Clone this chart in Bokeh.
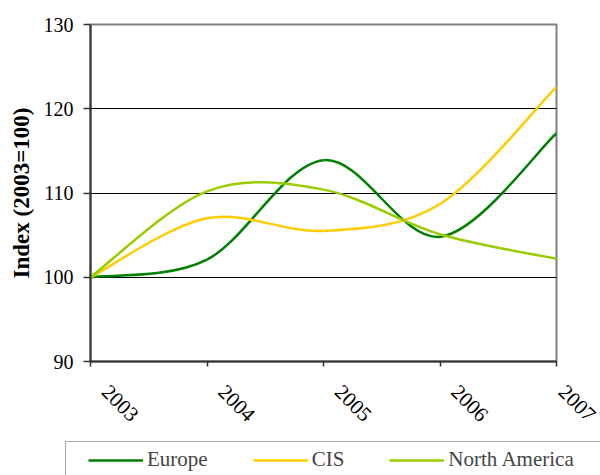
import math
from bokeh.plotting import figure
from bokeh.layouts import column
from bokeh.models import FixedTicker, Legend, LegendItem, Range1d
from bokeh.embed import file_html
from bokeh.resources import INLINE

years = [2003, 2004, 2005, 2006, 2007]
year_labels = ["2003", "2004", "2005", "2006", "2007"]
europe = [100.0, 102.1, 113.9, 104.8, 117.1]
cis = [100.0, 107.0, 105.5, 108.7, 122.6]
north_america = [100.0, 110.2, 110.4, 105.1, 102.2]
y_ticks = [90, 100, 110, 120, 130]
series_names = ["Europe", "CIS", "North America"]
series_colors = ["#008000", "#FFCC00", "#99CC00"]

FONT = "Liberation Serif"

p = figure(width=600, height=441, output_backend="svg", toolbar_location=None,
           x_range=Range1d(2003, 2007), y_range=Range1d(90, 130),
           min_border_left=90, min_border_right=44, min_border_top=24, min_border_bottom=80)
p.background_fill_color = "white"
p.border_fill_color = "white"
p.outline_line_color = "#808080"
p.outline_line_width = 2
p.frame_align = False


def bezier_segments(xs, ys):
    n = len(xs)
    segs = {k: [] for k in ["x0", "y0", "x1", "y1", "cx0", "cy0", "cx1", "cy1"]}
    for i in range(n - 1):
        xm, ym = (xs[i - 1], ys[i - 1]) if i > 0 else (xs[i], ys[i])
        xp, yp = (xs[i + 2], ys[i + 2]) if i + 2 < n else (xs[i + 1], ys[i + 1])
        segs["x0"].append(xs[i]); segs["y0"].append(ys[i])
        segs["x1"].append(xs[i + 1]); segs["y1"].append(ys[i + 1])
        segs["cx0"].append(xs[i] + (xs[i + 1] - xm) / 6)
        segs["cy0"].append(ys[i] + (ys[i + 1] - ym) / 6)
        segs["cx1"].append(xs[i + 1] - (xp - xs[i]) / 6)
        segs["cy1"].append(ys[i + 1] - (yp - ys[i]) / 6)
    return segs


for vals, color in zip([europe, cis, north_america], series_colors):
    p.bezier(line_color=color, line_width=2.5, **bezier_segments(years, vals))

p.xgrid.visible = False
p.ygrid.ticker = FixedTicker(ticks=[100, 110, 120])
p.ygrid.grid_line_color = "black"
p.ygrid.grid_line_width = 1

p.yaxis.ticker = FixedTicker(ticks=y_ticks)
p.xaxis.ticker = FixedTicker(ticks=years)
p.xaxis.major_label_overrides = {y: "\u00a0\u00a0\u00a0\u00a0" + l for y, l in zip(years, year_labels)}
p.xaxis.major_label_orientation = -math.pi / 4

for ax in (p.xaxis, p.yaxis):
    ax.axis_line_color = "#333333"
    ax.axis_line_width = 2
    ax.major_tick_line_color = "#333333"
    ax.major_tick_line_width = 1.5
    ax.minor_tick_line_color = None
    ax.major_tick_in = 0
    ax.major_label_text_font = FONT
    ax.major_label_text_color = "black"

p.yaxis.major_label_text_font_size = "20px"
p.xaxis.major_label_text_font_size = "21px"
p.yaxis.major_tick_out = 7
p.xaxis.major_tick_out = 5
p.yaxis.major_label_standoff = 10
p.xaxis.major_label_standoff = 7

p.yaxis.axis_label = "Index (2003=100)"
p.yaxis.axis_label_text_font = FONT
p.yaxis.axis_label_text_font_style = "bold"
p.yaxis.axis_label_text_font_size = "23px"
p.yaxis.axis_label_text_color = "black"
p.yaxis.axis_label_standoff = 7

# legend strip
q = figure(width=600, height=34, output_backend="svg", toolbar_location=None,
           x_range=Range1d(0, 1), y_range=Range1d(0, 1), x_axis_type=None, y_axis_type=None,
           min_border=0, min_border_left=0, min_border_right=0, min_border_top=0, min_border_bottom=0)
q.outline_line_color = None
q.xgrid.visible = False
q.ygrid.visible = False
q.frame_align = False

box_r = q.line(x=[5, 6], y=[5, 6], line_alpha=0)
box = Legend(items=[LegendItem(label=" ", renderers=[box_r])], location=(65, -48),
             padding=20, margin=0, glyph_width=55, glyph_height=40, label_width=520,
             border_line_color="#555555", border_line_width=1,
             background_fill_color="white", background_fill_alpha=1,
             label_text_font=FONT, label_text_font_size="21px")
q.add_layout(box, "center")

items = []
for name, color in zip(series_names, series_colors):
    r = q.line(x=[5, 6], y=[5, 6], line_color=color, line_width=2.5)
    items.append(LegendItem(label=name, renderers=[r]))
legend = Legend(items=items, orientation="horizontal", location=(88, 3),
                padding=0, spacing=45, margin=0, glyph_width=55, glyph_height=24,
                label_standoff=4, label_text_font=FONT, label_text_font_size="21px",
                border_line_color=None, background_fill_alpha=0)
q.add_layout(legend, "center")

layout = column(p, q, spacing=0)
open("out.html", "w").write(file_html(layout, INLINE))
